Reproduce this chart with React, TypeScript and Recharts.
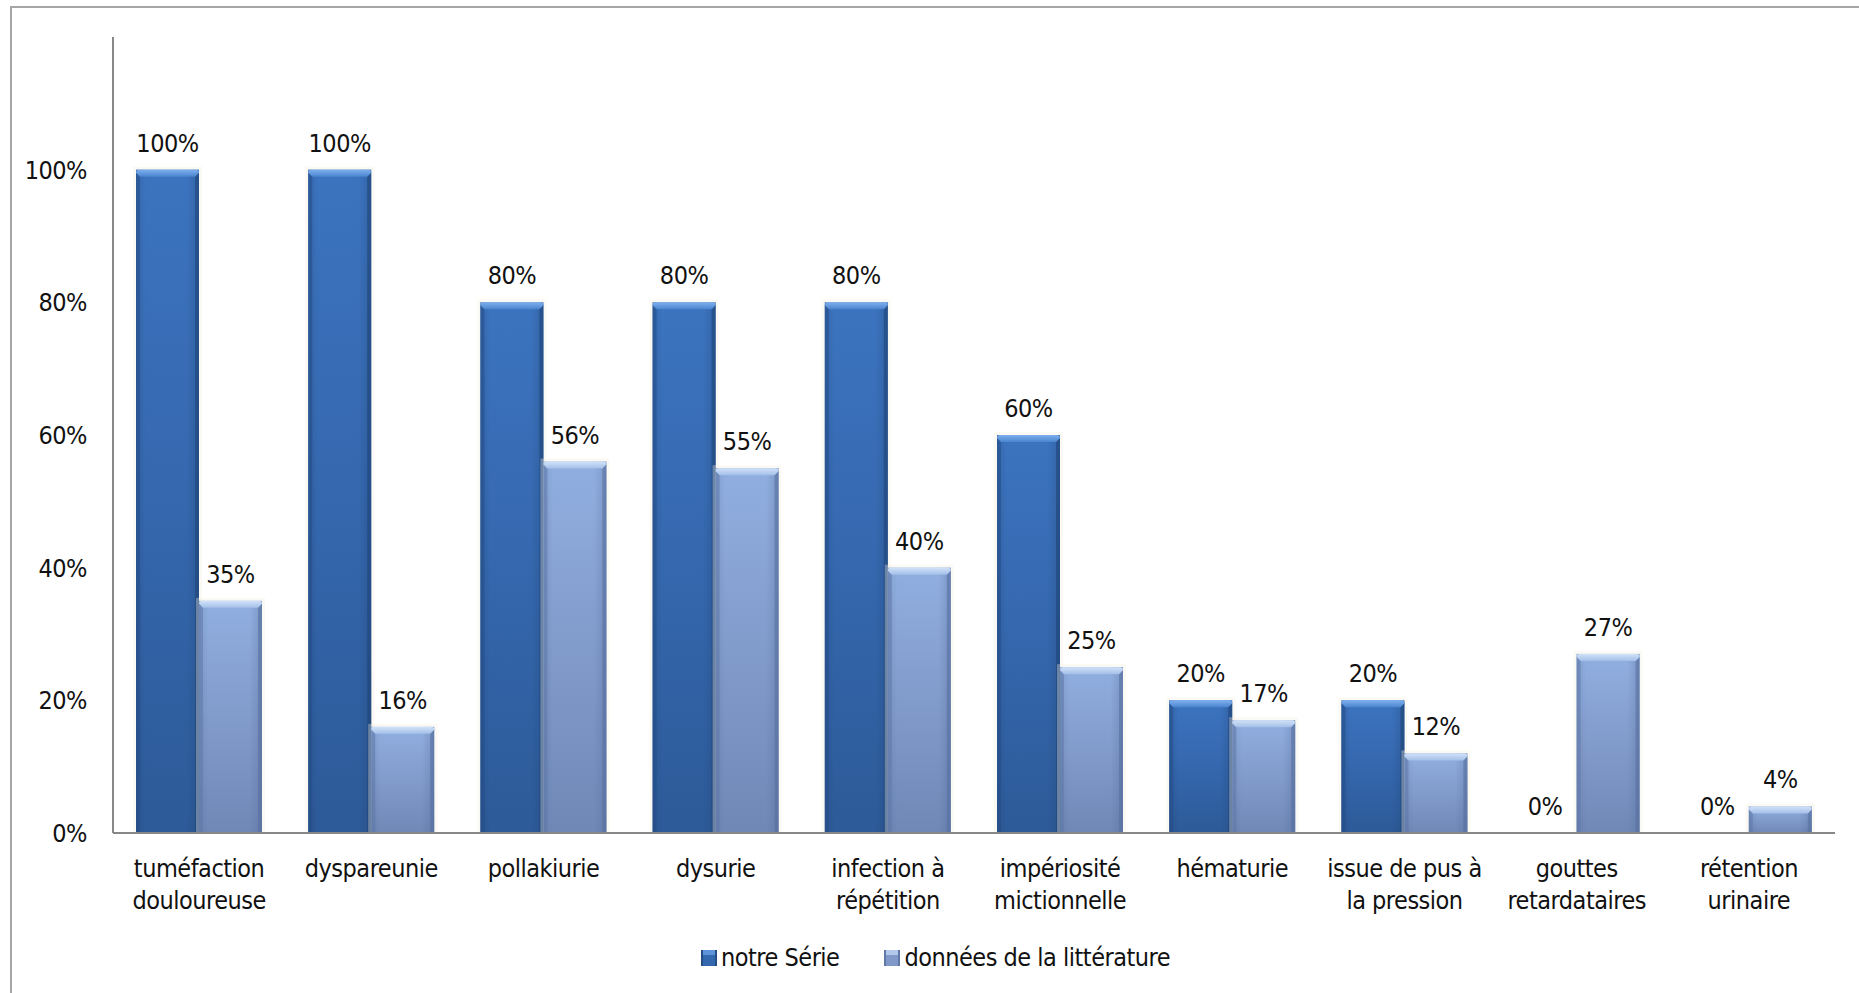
import React from 'react';
import { BarChart, Bar, XAxis, YAxis, LabelList, Legend } from 'recharts';

// Categories (line breaks mark where the axis label wraps)
const categories = [
  'tuméfaction\ndouloureuse',
  'dyspareunie',
  'pollakiurie',
  'dysurie',
  'infection à\nrépétition',
  'impériosité\nmictionnelle',
  'hématurie',
  'issue de pus à\nla pression',
  'gouttes\nretardataires',
  'rétention\nurinaire',
];

// Percentages per symptom
const notreSerie = [100, 100, 80, 80, 80, 60, 20, 20, 0, 0];
const litterature = [35, 16, 56, 55, 40, 25, 17, 12, 27, 4];

const yTicks = [0, 20, 40, 60, 80, 100];
const seriesNames = ['notre Série', 'données de la littérature'];

const data = categories.map((category, i) => ({
  category,
  serie: notreSerie[i],
  litt: litterature[i],
}));

const FONT = "'Liberation Sans Narrow', 'DejaVu Sans Condensed', 'Liberation Sans', sans-serif";
const FONT_SIZE = 25;
const LETTER_SPACING = -0.5;
const AXIS_COLOR = '#888888';

type Variant = 'dark' | 'light';

// Bar with a vertical colour gradient, darker side edges and a bright top bevel
const makeBevelBar = (variant: Variant) => (props: any) => {
  const { x, y, width, height } = props;
  if (!height || height <= 0) return <g />;
  const b = Math.min(7, height / 2);
  const e = Math.min(4, width / 4);
  return (
    <g>
      <rect x={x - 3} y={y - 3} width={width + 6} height={height + 3} fill="#f3efe0" opacity={0.35} />
      <rect x={x} y={y} width={width} height={height} fill={`url(#${variant}-vert)`} />
      <rect x={x} y={y} width={width} height={height} fill={`url(#${variant}-edge)`} />
      <polygon
        points={`${x},${y + height} ${x},${y + 2} ${x + e},${y + b} ${x + e},${y + height}`}
        fill={variant === 'dark' ? '#244d86' : '#5f78a8'}
        opacity={0.55}
      />
      <polygon
        points={`${x + width},${y + height} ${x + width},${y + 2} ${x + width - e},${y + b} ${x + width - e},${y + height}`}
        fill={variant === 'dark' ? '#1f4478' : '#56709f'}
        opacity={0.6}
      />
      <path
        d={`M${x + 3},${y} L${x + width - 3},${y} Q${x + width},${y} ${x + width},${y + 3} L${x + width - e},${y + b} L${x + e},${y + b} L${x},${y + 3} Q${x},${y} ${x + 3},${y} Z`}
        fill={`url(#${variant}-top)`}
      />
    </g>
  );
};

const DarkBar = makeBevelBar('dark');
const LightBar = makeBevelBar('light');

const CategoryTick = (props: any) => {
  const { x, y, payload } = props;
  const lines = String(payload.value).split('\n');
  return (
    <text
      x={x}
      y={y}
      textAnchor="middle"
      fontFamily={FONT}
      fontSize={FONT_SIZE}
      fill="#111"
      style={{ letterSpacing: LETTER_SPACING }}
    >
      {lines.map((line, i) => (
        <tspan key={i} x={x} dy={i === 0 ? 44 : 32}>
          {line}
        </tspan>
      ))}
    </text>
  );
};

const legendSwatches = ['dark', 'light'] as Variant[];

const LegendContent = () => (
  <div
    style={{
      display: 'flex',
      alignItems: 'center',
      fontFamily: FONT,
      fontSize: FONT_SIZE,
      letterSpacing: LETTER_SPACING,
      color: '#111',
      whiteSpace: 'nowrap',
    }}
  >
    {seriesNames.map((name, i) => {
      const dark = legendSwatches[i] === 'dark';
      return (
        <div key={name} style={{ display: 'flex', alignItems: 'center', marginLeft: i === 0 ? 0 : 45 }}>
          <svg width={16} height={16} style={{ marginRight: 4 }}>
            <rect x={0} y={0} width={16} height={16} fill={dark ? '#3468ae' : '#8099c8'} />
            <rect x={0} y={0} width={16} height={5} fill={dark ? '#5d93d8' : '#b3c8ea'} />
            <rect x={0} y={0} width={2} height={16} fill={dark ? '#244d86' : '#5f78a8'} />
            <rect x={14} y={0} width={2} height={16} fill={dark ? '#244d86' : '#5f78a8'} />
          </svg>
          <span>{name}</span>
        </div>
      );
    })}
  </div>
);

export default function App() {
  return (
    <div
      style={{
        position: 'absolute',
        left: 0,
        top: 0,
        width: 1859,
        height: 993,
        background: '#fff',
        overflow: 'hidden',
      }}
    >
      <div
        style={{
          position: 'absolute',
          left: 10,
          top: 6,
          width: 1900,
          height: 1100,
          borderTop: '2px solid #a6a6a6',
          borderLeft: '2px solid #a6a6a6',
        }}
      />
      <BarChart
        width={1859}
        height={993}
        data={data}
        margin={{ top: 37, right: 24, bottom: 60, left: 13 }}
        barSize={63}
        barGap={0}
        style={{ position: 'absolute', left: 0, top: 0 }}
      >
        <defs>
          <linearGradient id="dark-vert" x1="0" y1="0" x2="0" y2="1">
            <stop offset="0%" stopColor="#3c74bf" />
            <stop offset="55%" stopColor="#3466ac" />
            <stop offset="100%" stopColor="#2d5a98" />
          </linearGradient>
          <linearGradient id="light-vert" x1="0" y1="0" x2="0" y2="1">
            <stop offset="0%" stopColor="#90afe0" />
            <stop offset="55%" stopColor="#8099c9" />
            <stop offset="100%" stopColor="#6f88b6" />
          </linearGradient>
          <linearGradient id="dark-edge" x1="0" y1="0" x2="1" y2="0">
            <stop offset="0%" stopColor="#1d4070" stopOpacity={0.25} />
            <stop offset="15%" stopColor="#1d4070" stopOpacity={0} />
            <stop offset="80%" stopColor="#1d4070" stopOpacity={0} />
            <stop offset="100%" stopColor="#1d4070" stopOpacity={0.3} />
          </linearGradient>
          <linearGradient id="light-edge" x1="0" y1="0" x2="1" y2="0">
            <stop offset="0%" stopColor="#4b6290" stopOpacity={0.2} />
            <stop offset="15%" stopColor="#4b6290" stopOpacity={0} />
            <stop offset="80%" stopColor="#4b6290" stopOpacity={0} />
            <stop offset="100%" stopColor="#4b6290" stopOpacity={0.3} />
          </linearGradient>
          <linearGradient id="dark-top" x1="0" y1="0" x2="0" y2="1">
            <stop offset="0%" stopColor="#7fb0ee" />
            <stop offset="100%" stopColor="#4a84cf" />
          </linearGradient>
          <linearGradient id="light-top" x1="0" y1="0" x2="0" y2="1">
            <stop offset="0%" stopColor="#d2e2f8" />
            <stop offset="100%" stopColor="#a3bfe8" />
          </linearGradient>
        </defs>
        <XAxis
          dataKey="category"
          interval={0}
          height={100}
          tickLine={false}
          tickSize={0}
          tickMargin={0}
          axisLine={{ stroke: AXIS_COLOR, strokeWidth: 2 }}
          tick={<CategoryTick />}
        />
        <YAxis
          width={100}
          domain={[0, 120]}
          ticks={yTicks}
          allowDataOverflow
          tickFormatter={(v: number) => `${v}%`}
          tickLine={false}
          tickSize={0}
          tickMargin={26}
          axisLine={{ stroke: AXIS_COLOR, strokeWidth: 2 }}
          tick={{ fill: '#111', fontFamily: FONT, fontSize: FONT_SIZE, style: { letterSpacing: LETTER_SPACING } }}
        />
        <Legend
          layout="horizontal"
          verticalAlign="middle"
          align="center"
          wrapperStyle={{ left: 701, top: 943, width: 'auto' }}
          content={<LegendContent />}
        />
        <Bar dataKey="serie" name={seriesNames[0]} shape={DarkBar} isAnimationActive={false}>
          <LabelList
            dataKey="serie"
            position="top"
            offset={18}
            formatter={(v: number) => `${v}%`}
            fill="#111"
            fontFamily={FONT}
            fontSize={FONT_SIZE}
            style={{ letterSpacing: LETTER_SPACING }}
          />
        </Bar>
        <Bar dataKey="litt" name={seriesNames[1]} shape={LightBar} isAnimationActive={false}>
          <LabelList
            dataKey="litt"
            position="top"
            offset={18}
            formatter={(v: number) => `${v}%`}
            fill="#111"
            fontFamily={FONT}
            fontSize={FONT_SIZE}
            style={{ letterSpacing: LETTER_SPACING }}
          />
        </Bar>
      </BarChart>
    </div>
  );
}
